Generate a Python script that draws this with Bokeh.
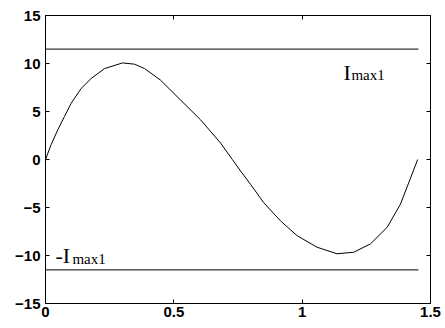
from bokeh.plotting import figure
from bokeh.models import LinearAxis, FixedTicker, Range1d, CustomLabelingPolicy
from bokeh.core.properties import value
from bokeh.embed import file_html
from bokeh.resources import INLINE

# curve
t = [0, 0.022, 0.048, 0.074, 0.10, 0.139, 0.178, 0.23, 0.30, 0.347, 0.386,
     0.448, 0.526, 0.604, 0.682, 0.728, 0.76, 0.799, 0.85, 0.915, 0.98,
     1.058, 1.136, 1.201, 1.266, 1.331, 1.383, 1.45]
i_vals = [0, 1.55, 3.1, 4.48, 5.86, 7.4, 8.44, 9.47, 10.06, 9.93, 9.47,
          8.27, 6.2, 4.14, 1.72, 0, -1.2, -2.59, -4.49, -6.38, -7.93,
          -9.14, -9.82, -9.66, -8.79, -7.07, -4.65, 0]

# limit lines
limit_x = [0, 1.453]
i_max = 11.5

x_ticks = [0, 0.5, 1, 1.5]
y_ticks = [-15, -10, -5, 0, 5, 10, 15]

# labels: main part and subscript part
main_text = ["I", "-I"]
main_x = [1.161, 0.039]
main_y = [9.1, -9.95]
sub_text = ["max1", "max1"]
sub_x = [1.192, 0.105]
sub_y = [8.8, -10.35]

p = figure(frame_width=385, frame_height=288, output_backend="svg",
           toolbar_location=None, x_range=Range1d(0, 1.5), y_range=Range1d(-15, 15),
           min_border_left=45, min_border_right=15, min_border_top=15, min_border_bottom=25)
p.grid.visible = False
p.outline_line_color = "black"
p.background_fill_color = "white"
p.border_fill_color = "white"

for ax in (p.xaxis[0], p.yaxis[0]):
    ax.major_tick_in = 4
    ax.major_tick_out = 0
    ax.minor_tick_line_color = None
    ax.axis_line_color = "black"
    ax.major_label_text_font = "Liberation Sans"
    ax.major_label_text_font_size = "15px"
    ax.major_label_text_font_style = "bold"
    ax.major_label_text_color = "black"
p.xaxis[0].ticker = FixedTicker(ticks=x_ticks)
p.yaxis[0].ticker = FixedTicker(ticks=y_ticks)
p.xaxis[0].major_label_standoff = 3
p.yaxis[0].major_label_standoff = 5

for loc, ticks in (("above", x_ticks), ("right", y_ticks)):
    a = LinearAxis(ticker=FixedTicker(ticks=ticks), major_tick_in=4, major_tick_out=0,
                   minor_tick_line_color=None, major_label_text_font_size="0px",
                   major_label_policy=CustomLabelingPolicy(code="return new Set()"),
                   major_label_standoff=0, axis_line_color="black")
    p.add_layout(a, loc)

p.line(t, i_vals, line_color="black", line_width=1)
p.line(limit_x, [i_max, i_max], line_color="black", line_width=1)
p.line(limit_x, [-i_max, -i_max], line_color="black", line_width=1)

p.text(x=main_x, y=main_y, text=main_text, text_font=value("Liberation Serif"),
       text_font_size="22px", text_baseline="alphabetic", text_align="left", text_color="black")
p.text(x=sub_x, y=sub_y, text=sub_text, text_font=value("Liberation Serif"),
       text_font_size="15px", text_baseline="alphabetic", text_align="left", text_color="black")

open("out.html", "w").write(file_html(p, INLINE))
